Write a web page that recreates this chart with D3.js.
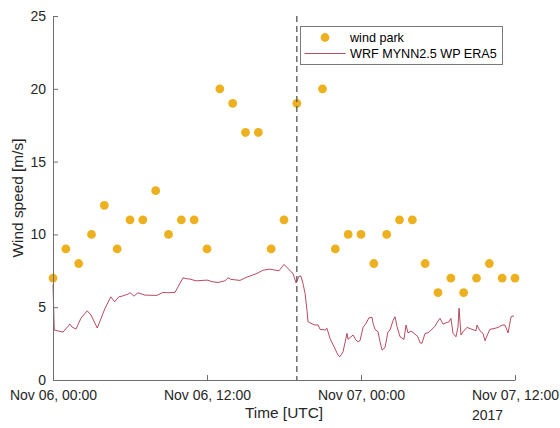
<!DOCTYPE html>
<html>
<head>
<meta charset="utf-8">
<script src="https://cdn.jsdelivr.net/npm/d3@7"></script>
<style>
  html, body { margin: 0; padding: 0; background: #fff; }
  svg { display: block; font-family: "Liberation Sans", Arial, Helvetica, sans-serif; }
</style>
</head>
<body>
<svg id="chart" width="560" height="428"></svg>
<script>
// Observed hourly wind speed at the wind park (hours after 2017-11-06 00:00 UTC)
const parkHours = [0,1,2,3,4,5,6,7,8,9,10,11,12,13,14,15,16,17,18,19,20,21,22,23,24,25,26,27,28,29,30,31,32,33,34,35,36];
const parkSpeed = [7,9,8,10,12,9,11,11,13,10,11,11,9,20,19,17,17,9,11,19,24,20,9,10,10,8,10,11,11,8,6,7,6,7,8,7,7];

// WRF MYNN2.5 WP ERA5 simulated wind speed
const modelHours = [0.00,0.10,0.78,1.32,1.48,1.79,2.18,2.67,2.96,3.45,4.03,4.50,4.81,5.12,5.38,5.84,6.00,6.31,6.62,7.17,8.10,8.57,8.96,9.51,10.13,10.44,10.68,11.14,12.00,12.47,12.86,13.40,13.64,13.87,14.57,15.04,15.90,16.36,16.91,17.61,18.00,18.31,18.55,18.70,18.94,19.17,19.32,19.48,19.64,19.79,19.87,20.10,20.42,20.65,20.81,21.20,21.35,21.58,21.90,22.21,22.36,22.60,22.91,22.99,23.22,23.38,23.61,23.77,23.92,24.16,24.39,24.62,24.86,24.94,25.09,25.33,25.48,25.64,25.87,26.10,26.26,26.49,26.65,26.81,27.04,27.35,27.51,27.66,27.90,28.05,28.44,28.60,28.75,28.99,29.22,29.46,29.61,29.77,30.00,30.16,30.39,30.62,30.86,31.01,31.17,31.40,31.56,31.64,31.79,31.95,32.26,32.65,32.96,33.04,33.27,33.51,33.66,33.90,34.05,34.44,34.68,34.99,35.22,35.46,35.69,35.92];
const modelSpeed = [6.55,3.43,3.29,3.84,3.64,3.50,4.25,4.75,4.46,3.57,4.87,5.71,5.37,5.71,5.76,5.90,6.00,5.76,5.99,5.83,5.81,6.02,5.99,6.02,7.02,6.95,6.93,6.81,6.86,6.74,6.70,6.81,7.02,6.91,6.84,7.04,7.32,7.54,7.61,7.50,7.94,7.66,7.43,7.32,6.67,7.13,7.13,6.63,5.95,4.80,4.00,3.89,3.77,3.79,3.48,3.43,3.55,2.86,2.28,1.71,1.60,1.94,3.20,2.79,2.97,3.09,2.74,2.63,2.70,3.61,3.89,4.27,4.30,3.89,3.48,3.31,2.63,2.06,2.22,3.31,3.43,4.07,4.34,3.66,2.97,2.79,3.77,3.24,3.36,3.27,2.97,2.56,2.52,3.20,3.24,3.43,3.55,3.70,4.05,4.23,3.84,3.93,4.00,4.23,3.20,2.97,3.66,4.92,3.09,3.31,3.61,3.48,3.38,3.77,3.38,3.20,2.70,3.20,3.48,3.55,3.61,3.77,3.77,3.24,4.34,4.41];

// Marker for the time the forecast was restarted
const markerHour = 19;

const yTicks = [0, 5, 10, 15, 20, 25];
const seriesNames = ["wind park", "WRF MYNN2.5 WP ERA5"];
const xTitle = "Time [UTC]";
const yTitle = "Wind speed [m/s]";
const yearLabel = "2017";

const start = Date.UTC(2017, 10, 6, 0, 0);
const end = Date.UTC(2017, 10, 7, 12, 0);
const toDate = h => new Date(start + h * 3600 * 1000);

const W = 560, H = 428;
const margin = { left: 53, right: 45, top: 16, bottom: 48 };
const textColor = "#262626";
const axisColor = "#6e6e6e";

const svg = d3.select("#chart");

const x = d3.scaleUtc()
  .domain([new Date(start), new Date(end)])
  .range([margin.left, W - margin.right]);
const y = d3.scaleLinear()
  .domain([0, 25])
  .range([H - margin.bottom, margin.top]);

const fmt = d3.utcFormat("%b %d, %H:%M");

// Model line
const line = d3.line()
  .x((d, i) => x(toDate(modelHours[i])))
  .y(d => y(d));
svg.append("path")
  .datum(modelSpeed)
  .attr("d", line)
  .attr("fill", "none")
  .attr("stroke", "#A2142F")
  .attr("stroke-width", 0.9)
  .attr("stroke-opacity", 0.85)
  .attr("stroke-linejoin", "round");

// Observations
svg.append("g")
  .selectAll("circle")
  .data(parkSpeed)
  .join("circle")
  .attr("cx", (d, i) => x(toDate(parkHours[i])))
  .attr("cy", d => y(d))
  .attr("r", 4.4)
  .attr("fill", "#EDB120");

// Vertical dashed marker
svg.append("line")
  .attr("x1", x(toDate(markerHour))).attr("x2", x(toDate(markerHour)))
  .attr("y1", y(25)).attr("y2", y(0))
  .attr("stroke", "#555")
  .attr("stroke-width", 1.3)
  .attr("stroke-dasharray", "6,4");

// Axes
const xAxis = d3.axisBottom(x)
  .ticks(d3.utcHour.every(12))
  .tickFormat(fmt)
  .tickSizeInner(-5)
  .tickSizeOuter(0)
  .tickPadding(10);
const gx = svg.append("g")
  .attr("transform", `translate(0,${H - margin.bottom})`)
  .call(xAxis);
gx.select(".domain").attr("stroke", axisColor);
gx.selectAll(".tick line").attr("stroke", axisColor);
gx.selectAll(".tick text")
  .attr("fill", textColor)
  .attr("font-size", 14)
  .attr("font-family", "Liberation Sans, Arial, sans-serif");

const yAxis = d3.axisLeft(y)
  .tickValues(yTicks)
  .tickSizeInner(-5)
  .tickSizeOuter(0)
  .tickPadding(7);
const gy = svg.append("g")
  .attr("transform", `translate(${margin.left},0)`)
  .call(yAxis);
gy.select(".domain").attr("stroke", axisColor);
gy.selectAll(".tick line").attr("stroke", axisColor);
gy.selectAll(".tick text")
  .attr("fill", textColor)
  .attr("font-size", 14)
  .attr("font-family", "Liberation Sans, Arial, sans-serif");

// Year label below the last tick
svg.append("text")
  .attr("x", x(new Date(end)) - 43)
  .attr("y", 420)
  .attr("fill", textColor)
  .attr("font-size", 14)
  .text(yearLabel);

// Axis titles
svg.append("text")
  .attr("x", (margin.left + W - margin.right) / 2)
  .attr("y", 418)
  .attr("text-anchor", "middle")
  .attr("fill", textColor)
  .attr("font-size", 15.4)
  .text(xTitle);
svg.append("text")
  .attr("transform", `translate(23,${(margin.top + H - margin.bottom) / 2}) rotate(-90)`)
  .attr("text-anchor", "middle")
  .attr("fill", textColor)
  .attr("font-size", 15.4)
  .text(yTitle);

// Legend
const lg = svg.append("g").attr("transform", "translate(300.5,26.5)");
lg.append("rect")
  .attr("width", 202).attr("height", 38)
  .attr("fill", "#fff")
  .attr("stroke", "#7a7a7a")
  .attr("stroke-width", 1);
lg.append("circle")
  .attr("cx", 24.5).attr("cy", 11)
  .attr("r", 4.4)
  .attr("fill", "#EDB120");
lg.append("line")
  .attr("x1", 4).attr("x2", 45)
  .attr("y1", 27).attr("y2", 27)
  .attr("stroke", "#A2142F")
  .attr("stroke-width", 0.9)
  .attr("stroke-opacity", 0.85);
lg.selectAll("text.item")
  .data(seriesNames)
  .join("text")
  .attr("class", "item")
  .attr("x", 49.5)
  .attr("y", (d, i) => 15.5 + i * 15.5)
  .attr("fill", "#000")
  .attr("font-size", 12.6)
  .text(d => d);
</script>
</body>
</html>
